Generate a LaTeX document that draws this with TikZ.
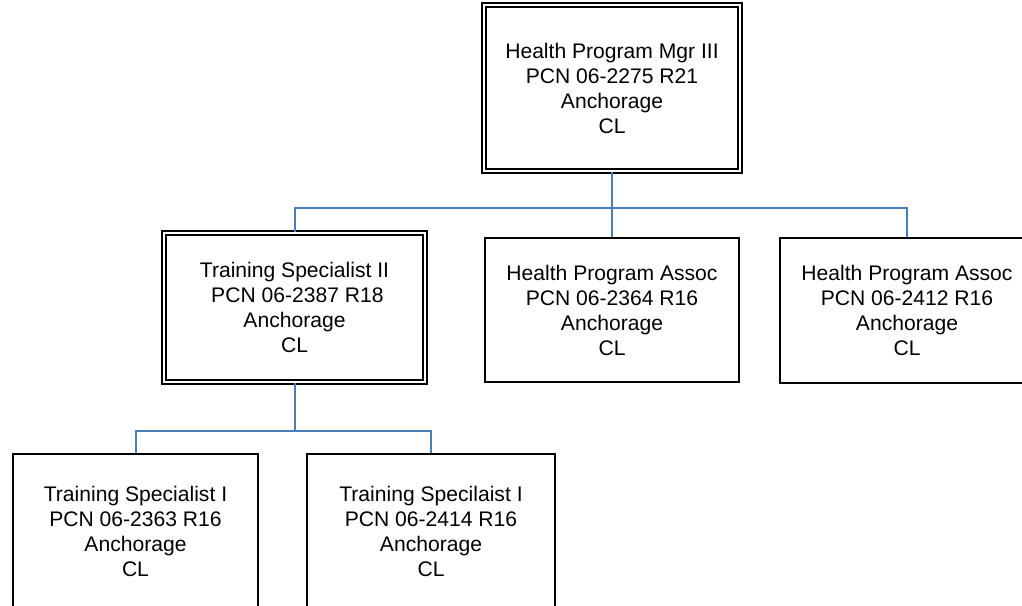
\documentclass[tikz,border=0pt]{standalone}
\usepackage{fontspec}
\setmainfont{Liberation Sans}
\usepackage{tikz}
\usetikzlibrary{positioning}
\definecolor{linkblue}{RGB}{74,126,187}

\begin{document}
\begin{tikzpicture}[x=1pt,y=-1pt,
	postbox/.style={draw, line width=2pt, inner sep=0pt, align=center,
		font=\fontsize{21.1}{25}\selectfont},
	postdbl/.style={postbox, line width=1.7pt, double, double distance=2.4pt},
	link/.style={linkblue, line width=2pt}]
			\useasboundingbox (0,0) rectangle (1022,605);
			\clip (0,0) rectangle (1022,605);
			\node[postdbl, minimum width=256pt, minimum height=166pt] (mgr) at (612,88)
				{Health Program Mgr III\\PCN 06-2275 R21\\Anchorage\\CL};
			\node[postdbl, minimum width=261pt, minimum height=149pt] (ts2) at (294.5,307.5)
				{Training Specialist II\\\hspace*{.278em}PCN 06-2387 R18\\Anchorage\\CL};
			\node[postbox, minimum width=254pt, minimum height=144pt] (hpa1) at (612,310)
				{Health Program Assoc\\PCN 06-2364 R16\\Anchorage\\CL};
			\node[postbox, minimum width=254pt, minimum height=145pt] (hpa2) at (907,310.5)
				{Health Program Assoc\\PCN 06-2412 R16\\Anchorage\\CL};
			\node[postbox, minimum width=245pt, minimum height=154pt] (ts1a) at (135.5,531)
				{Training Specialist I\\PCN 06-2363 R16\\Anchorage\\CL};
			\node[postbox, minimum width=248pt, minimum height=154pt] (ts1b) at (431,531)
				{Training Specilaist I\\PCN 06-2414 R16\\Anchorage\\CL};
			\coordinate (bus1) at (612,208);
			\coordinate (bus2) at (294.5,431);
			\draw[link] (mgr.south) -- (bus1);
			\draw[link] (bus1) -| (ts2.north);
			\draw[link] (bus1) -- (hpa1.north);
			\draw[link] (bus1) -| (hpa2.north);
			\draw[link] (ts2.south) -- (bus2);
			\draw[link] (bus2) -| (ts1a.north);
			\draw[link] (bus2) -| (ts1b.north);
\end{tikzpicture}
\end{document}
